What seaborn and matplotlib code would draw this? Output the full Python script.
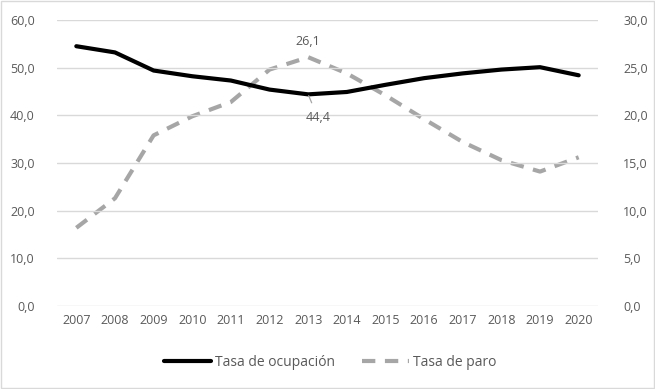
import pandas as pd, numpy as np, matplotlib
matplotlib.use('Agg')
import matplotlib.pyplot as plt
import seaborn as sns

years=[2007,2008,2009,2010,2011,2012,2013,2014,2015,2016,2017,2018,2019,2020]
ocupacion=[54.5,53.2,49.4,48.2,47.3,45.4,44.4,44.9,46.4,47.8,48.8,49.6,50.1,48.4]
paro=[8.2,11.3,17.9,19.9,21.4,24.8,26.1,24.4,22.1,19.6,17.2,15.3,14.1,15.6]
lab_ocup='Tasa de ocupación'; lab_paro='Tasa de paro'

sns.set_style('white')
plt.rcParams['font.family']=['Open Sans','DejaVu Sans']
txt='#595959'; grid='#d9d9d9'
df=pd.DataFrame({'x':np.arange(len(years)),'ocup':ocupacion,'paro':paro})

fig=plt.figure(figsize=(6.55,3.89),dpi=100)
ax=fig.add_axes([57/655,1-306/389,541/655,286/389])
ax2=ax.twinx()
sns.lineplot(data=df,x='x',y='ocup',ax=ax,color='black',lw=3,label=lab_ocup,legend=False)
sns.lineplot(data=df,x='x',y='paro',ax=ax2,color='#a6a6a6',lw=3,label=lab_paro,legend=False)
ax2.lines[0].set_dashes([3.2,2.3])
ax.set_ylim(0,60); ax2.set_ylim(0,30); ax.set_xlim(-0.5,len(years)-0.5)
ax.set_yticks(np.arange(0,61,10)); ax2.set_yticks(np.arange(0,31,5))
ax.set_yticklabels([f'{v:.1f}'.replace('.',',') for v in np.arange(0,61,10)])
ax2.set_yticklabels([f'{v:.1f}'.replace('.',',') for v in np.arange(0,31,5)])
ax.set_xticks(df['x']); ax.set_xticklabels(years)
for a in (ax,ax2):
    a.set_xlabel(''); a.set_ylabel('')
    a.tick_params(length=0,colors=txt,labelsize=9)
    for s in a.spines.values(): s.set_visible(False)
ax.tick_params(axis='y',pad=16); ax2.tick_params(axis='y',pad=18)
ax.tick_params(axis='x',pad=6)
ax.grid(axis='y',color=grid,lw=1); ax.set_axisbelow(True)
ax.set_zorder(ax2.get_zorder()+1); ax.patch.set_visible(False)
i=years.index(2013)
ax.annotate(f'{ocupacion[i]:.1f}'.replace('.',','),xy=(i,ocupacion[i]),xytext=(i+0.25,39.5),
            ha='center',va='center',color=txt,fontsize=9,
            arrowprops=dict(arrowstyle='-',color='#a6a6a6',lw=0.9,shrinkA=4,shrinkB=1))
ax2.text(i,27.7,f'{paro[i]:.1f}'.replace('.',','),ha='center',va='center',color=txt,fontsize=9)
h1,l1=ax.get_legend_handles_labels(); h2,l2=ax2.get_legend_handles_labels()
fig.legend(h1+h2,l1+l2,loc='center',bbox_to_anchor=(0.504,1-362/389),ncol=2,frameon=False,
           fontsize=10,labelcolor=txt,handlelength=3.4,columnspacing=1.9,handletextpad=0.3)
fig.patches.append(matplotlib.patches.Rectangle((0.002,0.003),0.996,0.994,transform=fig.transFigure,
                   fill=False,edgecolor='#d9d9d9',lw=1))
fig.savefig('out.png',dpi=100)
